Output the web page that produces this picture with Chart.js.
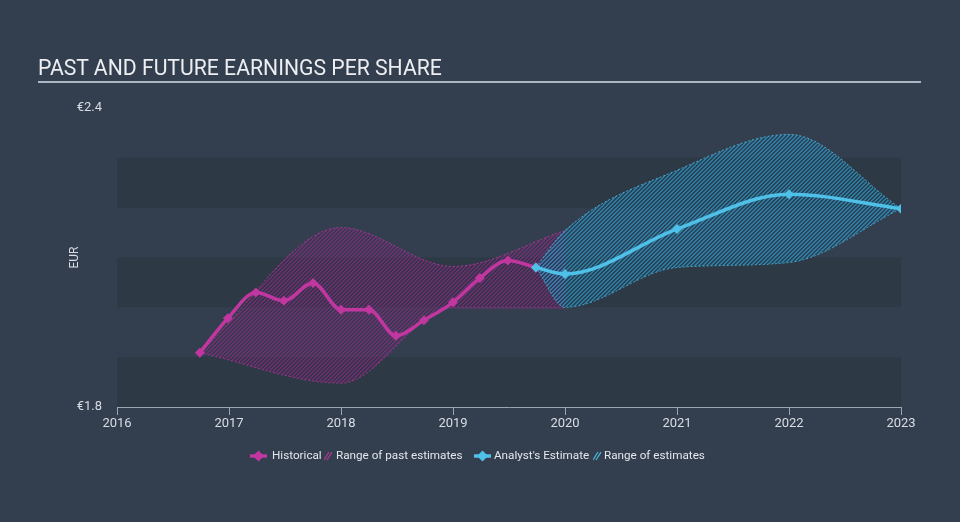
<!DOCTYPE html>
<html><head><meta charset="utf-8">
<script src="https://cdn.jsdelivr.net/npm/chart.js@4.4.1/dist/chart.umd.min.js"></script>
<style>
html,body{margin:0;padding:0;background:#333f4f;}
#wrap{position:relative;width:960px;height:522px;overflow:hidden;background:#333f4f;font-family:Roboto,sans-serif;}
#c{position:absolute;left:0;top:0;}
#title{position:absolute;left:38px;top:56px;font-size:21.2px;color:#eceef1;white-space:nowrap;line-height:24px;}
#rule{position:absolute;left:38px;top:81px;width:883px;height:2px;background:#aeb6c1;}
.lg{position:absolute;top:447px;font-size:11.7px;color:#e4e7eb;line-height:16px;white-space:nowrap;}
.ic{position:absolute;}
</style></head><body>
<div id="wrap">
<canvas id="c" width="960" height="522"></canvas>
<div id="title">PAST AND FUTURE EARNINGS PER SHARE</div>
<div id="rule"></div>
<div id="legend"></div>
</div>
<script>
// ---- data ----
const histX = [2016.74, 2016.99, 2017.24, 2017.49, 2017.75, 2018.0, 2018.25, 2018.49, 2018.74, 2019.0, 2019.24, 2019.49, 2019.74];
const histY = [1.909, 1.978, 2.030, 2.013, 2.049, 1.995, 1.995, 1.943, 1.974, 2.010, 2.059, 2.094, 2.080];
const estX = [2019.74, 2020.0, 2021.0, 2022.0, 2023.0];
const estY = [2.080, 2.067, 2.157, 2.227, 2.198];
const pastRangeX = [2016.74, 2018.0, 2019.0, 2020.0];
const pastRangeHigh = [1.909, 2.160, 2.082, 2.154];
const pastRangeLow = [1.909, 1.848, 1.999, 1.999];
const estRangeX = [2019.74, 2020.0, 2021.0, 2022.0, 2023.0];
const estRangeHigh = [2.080, 2.154, 2.275, 2.347, 2.198];
const estRangeLow = [2.080, 2.000, 2.080, 2.090, 2.198];
const xTickYears = [2016, 2017, 2018, 2019, 2020, 2021, 2022, 2023];
const yTickValues = [1.8, 2.4];
const bandRanges = [[1.8, 1.9], [2.0, 2.1], [2.2, 2.3]];
const legendLabels = ["Historical", "Range of past estimates", "Analyst's Estimate", "Range of estimates"];

// ---- styles ----
const MAG = '#c1379f';
const CYAN = '#4fc1e9';
const TXT = '#d8dde3';

function zip(xs, ys) { return xs.map((x, i) => ({ x: x, y: ys[i] })); }

function hatch(base, stripe) {
  const c = document.createElement('canvas');
  c.width = 4; c.height = 4;
  const g = c.getContext('2d');
  g.fillStyle = base; g.fillRect(0, 0, 4, 4);
  g.fillStyle = stripe;
  for (let i = 0; i < 4; i++) { g.fillRect(i, 3 - i, 1, 1); g.fillRect((i + 1) % 4, 3 - i, 1, 1); }
  return g.createPattern(c, 'repeat');
}
const magPattern = hatch('rgba(80,30,90,0.2)', 'rgba(160,45,145,0.5)');
const cyanPattern = hatch('rgba(20,90,130,0.32)', 'rgba(60,165,210,0.55)');

const bandPlugin = {
  id: 'bands',
  beforeDatasetsDraw(chart) {
    const { ctx, chartArea, scales } = chart;
    ctx.save();
    ctx.fillStyle = '#2e3946';
    bandRanges.forEach(([a, b]) => {
      const y1 = scales.y.getPixelForValue(b), y2 = scales.y.getPixelForValue(a);
      ctx.fillRect(chartArea.left, y1, chartArea.right - chartArea.left, y2 - y1);
    });
    ctx.restore();
  }
};

const rangeStyle = (col) => ({
  borderColor: col, borderWidth: 1, borderDash: [2, 2], pointRadius: 0,
  cubicInterpolationMode: 'monotone'
});

new Chart(document.getElementById('c'), {
  type: 'line',
  data: {
    datasets: [
      { label: legendLabels[0], data: zip(histX, histY), borderColor: MAG, backgroundColor: MAG,
        borderWidth: 3.5, pointStyle: 'rectRot', pointRadius: 5, pointBorderWidth: 0,
        cubicInterpolationMode: 'monotone', fill: false, order: 1 },
      { label: legendLabels[2], data: zip(estX, estY), borderColor: CYAN, backgroundColor: CYAN,
        borderWidth: 3.5, pointStyle: 'rectRot', pointRadius: 5, pointBorderWidth: 0,
        cubicInterpolationMode: 'monotone', fill: false, order: 0 },
      Object.assign({ label: legendLabels[1], data: zip(pastRangeX, pastRangeHigh), fill: '+1', backgroundColor: magPattern, order: 4 }, rangeStyle('rgba(193,55,159,0.8)')),
      Object.assign({ label: legendLabels[1] + ' low', data: zip(pastRangeX, pastRangeLow), fill: false, order: 4 }, rangeStyle('rgba(193,55,159,0.8)')),
      Object.assign({ label: legendLabels[3], data: zip(estRangeX, estRangeHigh), fill: '+1', backgroundColor: cyanPattern, order: 3 }, rangeStyle('rgba(79,193,233,0.8)')),
      Object.assign({ label: legendLabels[3] + ' low', data: zip(estRangeX, estRangeLow), fill: false, order: 3 }, rangeStyle('rgba(79,193,233,0.8)'))
    ]
  },
  options: {
    responsive: false, animation: false, devicePixelRatio: 1,
    layout: { padding: { left: 64, right: 59, top: 108, bottom: 0 } },
    plugins: { legend: { display: false }, tooltip: { enabled: false } },
    scales: {
      x: {
        type: 'linear', min: 2016, max: 2023,
        afterBuildTicks: (s) => { s.ticks = xTickYears.map(v => ({ value: v })); },
        afterFit: (s) => { s.height = 115; },
        ticks: { color: TXT, font: { family: 'Roboto', size: 13 }, padding: 1, maxRotation: 0, autoSkip: false,
                 callback: (v) => String(v) },
        grid: { display: true, drawOnChartArea: false, drawTicks: true, tickLength: 8, color: '#9aa6b5' },
        border: { display: true, color: '#9aa6b5', width: 1 }
      },
      y: {
        min: 1.8, max: 2.4,
        afterBuildTicks: (s) => { s.ticks = yTickValues.map(v => ({ value: v })); },
        afterFit: (s) => { s.width = 53; },
        ticks: { color: TXT, font: { family: 'Roboto', size: 13 }, padding: 15,
                 callback: (v) => '\u20ac' + Number(v).toFixed(1) },
        grid: { display: false, drawTicks: false, tickLength: 0 },
        border: { display: false },
        title: { display: true, text: 'EUR', color: TXT, font: { family: 'Roboto', size: 12 }, padding: { top: 4, bottom: 0 } }
      }
    }
  },
  plugins: [bandPlugin]
});

// ---- legend ----
function lineIcon(col) {
  const c = document.createElement('canvas'); c.width = 17; c.height = 12;
  const g = c.getContext('2d');
  g.strokeStyle = col; g.lineWidth = 3.5; g.beginPath(); g.moveTo(0, 6); g.lineTo(17, 6); g.stroke();
  g.fillStyle = col; g.beginPath(); g.moveTo(8.5, 0.5); g.lineTo(14, 6); g.lineTo(8.5, 11.5); g.lineTo(3, 6); g.closePath(); g.fill();
  return c;
}
function hatchIcon(col) {
  const c = document.createElement('canvas'); c.width = 8; c.height = 10;
  const g = c.getContext('2d');
  g.strokeStyle = col; g.lineWidth = 1.2;
  [[0, 9, 5, 1], [3, 9, 8, 1]].forEach(([a, b, d, e]) => { g.beginPath(); g.moveTo(a, b); g.lineTo(d, e); g.stroke(); });
  return c;
}
const lg = document.getElementById('legend');
function place(el, x, y) { el.style.left = x + 'px'; el.style.top = y + 'px'; lg.appendChild(el); }
const items = [
  { icon: lineIcon(MAG), ix: 250, iy: 450, text: legendLabels[0], tx: 272 },
  { icon: hatchIcon('rgba(193,55,159,0.9)'), ix: 324, iy: 451, text: legendLabels[1], tx: 336 },
  { icon: lineIcon(CYAN), ix: 474, iy: 450, text: legendLabels[2], tx: 494 },
  { icon: hatchIcon('rgba(79,193,233,0.9)'), ix: 593, iy: 451, text: legendLabels[3], tx: 604 }
];
items.forEach(it => {
  it.icon.className = 'ic'; place(it.icon, it.ix, it.iy);
  const s = document.createElement('div'); s.className = 'lg'; s.textContent = it.text; place(s, it.tx, 447);
});
</script>
</body></html>
